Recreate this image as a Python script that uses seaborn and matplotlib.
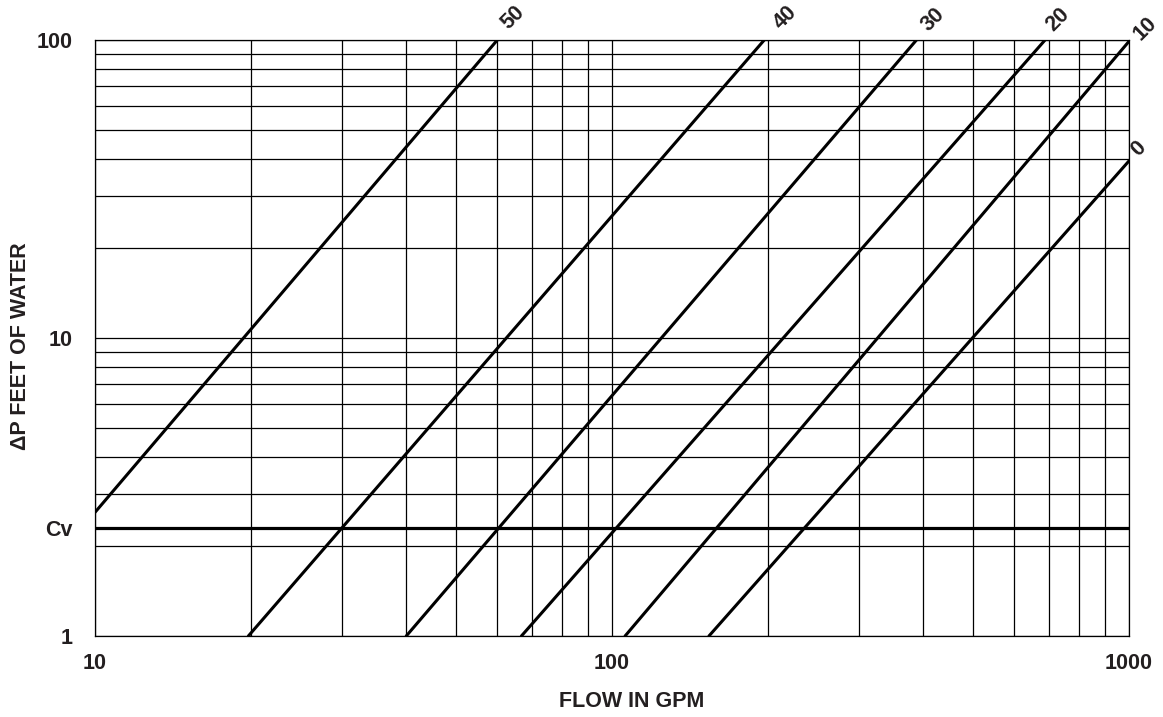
import pandas as pd
import matplotlib
matplotlib.use("Agg")
import matplotlib.pyplot as plt
from matplotlib.ticker import LogLocator, NullFormatter
import seaborn as sns

# valve setting curves at the two ends of every line
settings = ["50", "40", "30", "20", "10", "0"]
flow_start = [10, 19.8, 40, 66.8, 106, 154]      # GPM
dp_start = [2.6, 1, 1, 1, 1, 1]                  # ft of water
flow_end = [60, 197, 388, 688, 1000, 1000]
dp_end = [100, 100, 100, 100, 99, 39.3]

cv_dp = 2.31  # 1 psi expressed in feet of water

x_ticks = [10, 100, 1000]
x_tick_labels = ["10", "100", "1000"]
y_ticks = [1, cv_dp, 10, 100]
y_tick_labels = ["1", "Cv", "10", "100"]

# offsets (points) of the setting labels from the upper end of each line
label_offset = {"50": (11, 16), "40": (15, 16), "30": (12, 15),
                "20": (9, 15), "10": (12, 9), "0": (7, 9)}

rows = []
for s, x0, y0, x1, y1 in zip(settings, flow_start, dp_start, flow_end, dp_end):
    rows.append({"setting": s, "flow": x0, "dp": y0})
    rows.append({"setting": s, "flow": x1, "dp": y1})
df = pd.DataFrame(rows)

sns.set_theme(style="white")
plt.rcParams["font.family"] = ["Liberation Sans", "DejaVu Sans"]
plt.rcParams["font.weight"] = "bold"

fig = plt.figure(figsize=(11.63, 7.17), dpi=100)
ax = fig.add_axes([0.0817, 0.113, 0.8891, 0.8312])
ax.set_xscale("log")
ax.set_yscale("log")

sns.lineplot(data=df, x="flow", y="dp", hue="setting", hue_order=settings,
             palette={s: "black" for s in settings}, estimator=None, sort=False,
             legend=False, linewidth=2.2, ax=ax, zorder=3)

ax.axhline(cv_dp, color="black", linewidth=2.3, zorder=3)

ax.set_xlim(10, 1000)
ax.set_ylim(1, 100)

# log grid: every 1..9 in each decade
ax.xaxis.set_minor_locator(LogLocator(base=10, subs=range(2, 10)))
ax.yaxis.set_minor_locator(LogLocator(base=10, subs=range(2, 10)))
ax.xaxis.set_minor_formatter(NullFormatter())
ax.yaxis.set_minor_formatter(NullFormatter())
ax.grid(True, which="both", color="black", linewidth=0.9)
ax.set_axisbelow(True)

ax.set_xticks(x_ticks)
ax.set_xticklabels(x_tick_labels)
ax.set_yticks(y_ticks)
ax.set_yticklabels(y_tick_labels)
ax.yaxis.get_major_ticks()[1].tick1line.set_visible(False)
ax.yaxis.get_major_ticks()[1].gridline.set_visible(False)

ax.tick_params(which="major", direction="out", length=4, width=0.9,
               color="black", labelsize=15.5, labelcolor="#231f20")
ax.tick_params(axis="x", which="major", pad=8)
ax.tick_params(axis="y", which="major", pad=12)
ax.tick_params(which="minor", length=0)
for lab in ax.get_xticklabels() + ax.get_yticklabels():
    lab.set_fontweight("bold")

for sp in ax.spines.values():
    sp.set_visible(True)
    sp.set_color("black")
    sp.set_linewidth(0.9)

for s, x1, y1 in zip(settings, flow_end, dp_end):
    ax.annotate(s, xy=(x1, y1), xytext=label_offset[s], textcoords="offset points",
                rotation=45, ha="center", va="center", fontsize=15.5,
                fontweight="bold", color="#231f20", annotation_clip=False)

ax.set_xlabel("FLOW IN GPM", fontsize=15.5, fontweight="bold", color="#231f20")
ax.set_ylabel("\u0394P FEET OF WATER", fontsize=15.5, fontweight="bold", color="#231f20")
ax.xaxis.set_label_coords(0.519, -0.093)
ax.yaxis.set_label_coords(-0.062, 0.487)

fig.savefig("out.png", dpi=100, facecolor="white")
